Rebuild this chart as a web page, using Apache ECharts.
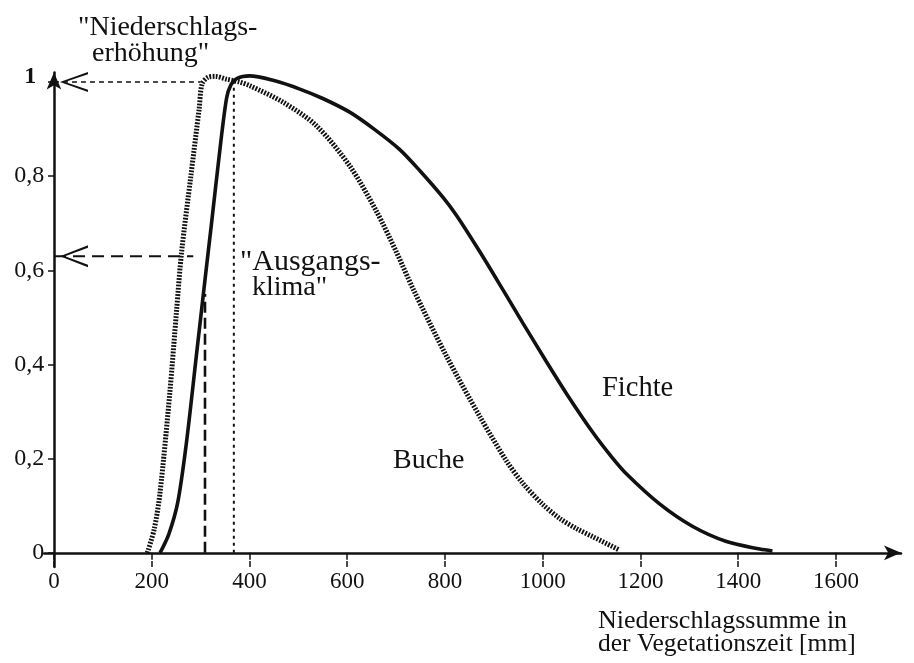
<!DOCTYPE html>
<html>
<head>
<meta charset="utf-8">
<title>Fichte / Buche</title>
<script src="https://cdn.jsdelivr.net/npm/echarts@6.0.0/dist/echarts.min.js"></script>
<style>
  html, body { margin: 0; padding: 0; background: #fff; }
  #chart { width: 914px; height: 663px; }
</style>
</head>
<body>
<div id="chart"></div>
<script>
// Achsenwerte
var xTicks = [0, 200, 400, 600, 800, 1000, 1200, 1400, 1600]
var yTicks = [0, 0.2, 0.4, 0.6, 0.8, 1]

// Fichte (durchgezogene Linie)
var fichteX = [217, 235, 253, 271, 292, 309, 322, 339, 353, 362, 375, 400, 450, 503, 550, 605, 655, 707, 750, 796, 824, 871, 919, 960, 1007, 1050, 1103, 1140, 1171, 1239, 1307, 1376, 1444, 1470]
var fichteY = [0, 0.04, 0.106, 0.234, 0.425, 0.58, 0.697, 0.852, 0.965, 0.994, 1.008, 1.013, 1.003, 0.985, 0.965, 0.936, 0.9, 0.857, 0.81, 0.755, 0.716, 0.64, 0.558, 0.487, 0.407, 0.336, 0.255, 0.205, 0.168, 0.104, 0.056, 0.024, 0.008, 0.004]

// Buche (gepunktete Linie)
var bucheX = [191, 205, 217, 237, 251, 261, 280, 297, 303, 315, 330, 353, 380, 401, 469, 537, 605, 660, 701, 735, 803, 871, 926, 960, 1000, 1035, 1070, 1103, 1157]
var bucheY = [0, 0.05, 0.128, 0.34, 0.517, 0.638, 0.8, 0.943, 0.996, 1.01, 1.012, 1.006, 1.0, 0.992, 0.957, 0.907, 0.822, 0.725, 0.638, 0.56, 0.418, 0.29, 0.195, 0.147, 0.103, 0.073, 0.051, 0.034, 0.006]

// Hilfslinien [x, y]
var erhoehungLine = [[0, 1], [300, 1]]
var ausgangLine = [[0, 0.63], [285, 0.63]]
var ausgangVertical = [[309, 0], [309, 0.55]]
var erhoehungVertical = [[368, 0], [368, 1]]

var serif = 'Liberation Serif'
var ink = '#111'

function zip (xs, ys) {
  return xs.map(function (x, i) { return [x, ys[i]] })
}

// offener Pfeil nach links
var chevron = 'path://M0,9 L28,0 L28,2 L5,9 L28,16 L28,18 Z'

function withArrow (pts, size) {
  var first = { value: pts[0], symbol: chevron, symbolSize: size, symbolOffset: [size[0] / 2 + 6, 0] }
  return [first].concat(pts.slice(1))
}

function helper (data, dash, width) {
  return {
    type: 'line',
    data: data,
    symbol: 'none',
    silent: true,
    itemStyle: { color: ink },
    lineStyle: { color: ink, width: width, type: dash },
    z: 1
  }
}

var chart = echarts.init(document.getElementById('chart'))

var option = {
  animation: false,
  backgroundColor: '#fff',
  grid: { left: 44.2, right: 13, top: 72.6, bottom: 96, outerBoundsMode: 'none' },
  xAxis: [{
    type: 'value',
    min: -20,
    max: 1733,
    axisLine: { show: true, onZero: true, symbol: ['none', 'arrow'], symbolSize: [11, 17], lineStyle: { color: ink, width: 2.5 } },
    axisTick: { show: true, inside: false, length: 7, customValues: xTicks, lineStyle: { color: ink, width: 1.5 } },
    axisLabel: {
      customValues: xTicks,
      margin: 3,
      color: ink,
      fontFamily: serif,
      fontSize: 23,
      formatter: function (v) { return String(v) }
    },
    splitLine: { show: false }
  }, {
    // Striche nach innen
    type: 'value',
    min: -20,
    max: 1733,
    position: 'bottom',
    axisLine: { show: false, onZero: true },
    axisTick: { show: true, inside: true, length: 6, customValues: xTicks, lineStyle: { color: ink, width: 1.5 } },
    axisLabel: { show: false },
    splitLine: { show: false }
  }],
  yAxis: {
    type: 'value',
    min: -0.03,
    max: 1.02,
    axisLine: { show: true, onZero: true, symbol: ['none', 'arrow'], symbolSize: [11, 17], lineStyle: { color: ink, width: 2.5 } },
    axisTick: { show: true, inside: false, length: 6, customValues: yTicks, lineStyle: { color: ink, width: 1.5 } },
    axisLabel: {
      customValues: yTicks,
      margin: 0,
      color: ink,
      fontFamily: serif,
      fontSize: 24,
      formatter: function (v) {
        if (v === 1) return '{b|1}'
        return String(v).replace('.', ',')
      },
      rich: {
        b: { fontWeight: 'bold', fontFamily: serif, fontSize: 24, color: ink, padding: [0, 8, 10, 0] }
      }
    },
    splitLine: { show: false }
  },
  series: [
    helper(withArrow(erhoehungLine, [28, 20]), [5, 4], 1.6),
    helper(withArrow(ausgangLine, [28, 22]), [12, 7], 1.8),
    helper(ausgangVertical, [11, 5], 2.6),
    helper(erhoehungVertical, [3, 4], 2),
    {
      name: 'Buche',
      type: 'line',
      data: zip(bucheX, bucheY),
      symbol: 'none',
      smooth: 0.3,
      lineStyle: { color: ink, width: 5, type: [1.8, 1.4] },
      z: 3
    },
    {
      name: 'Fichte',
      type: 'line',
      data: zip(fichteX, fichteY),
      symbol: 'none',
      smooth: 0.3,
      lineStyle: { color: ink, width: 3.6 },
      z: 4
    }
  ],
  graphic: [
    { type: 'text', style: { text: '"Niederschlags-', x: 78, y: 27.5, fill: ink, fontFamily: serif, fontSize: 28, verticalAlign: 'middle' } },
    { type: 'text', style: { text: 'erhöhung"', x: 92, y: 53.5, fill: ink, fontFamily: serif, fontSize: 28, verticalAlign: 'middle' } },
    { type: 'text', style: { text: '"Ausgangs-', x: 240, y: 262.5, fill: ink, fontFamily: serif, fontSize: 30, verticalAlign: 'middle' } },
    { type: 'text', style: { text: 'klima"', x: 252, y: 287.5, fill: ink, fontFamily: serif, fontSize: 28, verticalAlign: 'middle' } },
    { type: 'text', style: { text: 'Buche', x: 393, y: 460.5, fill: ink, fontFamily: serif, fontSize: 28, verticalAlign: 'middle' } },
    { type: 'text', style: { text: 'Fichte', x: 602, y: 388.5, fill: ink, fontFamily: serif, fontSize: 28.5, verticalAlign: 'middle' } },
    { type: 'text', style: { text: 'Niederschlagssumme in', x: 598, y: 621.6, fill: ink, fontFamily: serif, fontSize: 26, verticalAlign: 'middle' } },
    { type: 'text', style: { text: 'der Vegetationszeit [mm]', x: 598, y: 644.6, fill: ink, fontFamily: serif, fontSize: 25.5, verticalAlign: 'middle' } }
  ]
}

chart.setOption(option)
</script>
</body>
</html>
